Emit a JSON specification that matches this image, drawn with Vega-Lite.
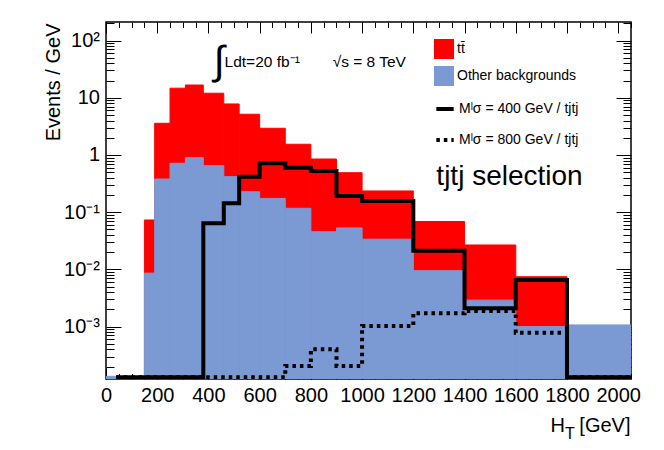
{
  "$schema": "https://vega.github.io/schema/vega-lite/v6.json",
  "width": 525,
  "height": 357,
  "autosize": "none",
  "padding": {"left": 106, "top": 22, "right": 33, "bottom": 71},
  "background": "white",
  "config": {
    "font": "Liberation Sans",
    "view": {"stroke": "black", "strokeWidth": 1.5},
    "axis": {
      "domain": false,
      "grid": false,
      "tickColor": "black",
      "tickWidth": 1,
      "labelColor": "black",
      "labelFont": "Liberation Sans",
      "labelFontSize": 20,
      "labelOverlap": false,
      "labelFlush": false,
      "titleFont": "Liberation Sans",
      "titleFontWeight": "normal",
      "titleColor": "black",
      "titleFontSize": 20
    },
    "legend": {
      "labelFont": "Liberation Sans",
      "labelFontSize": 14,
      "labelColor": "black",
      "padding": 0
    },
    "text": {"font": "Liberation Sans", "color": "black"}
  },
  "datasets": {
    "bins": [
      {"lo": 150, "hi": 190, "process": "tt\u0304", "events": 0.073},
      {"lo": 190, "hi": 250, "process": "tt\u0304", "events": 3.58},
      {"lo": 250, "hi": 310, "process": "tt\u0304", "events": 14.7},
      {"lo": 310, "hi": 380, "process": "tt\u0304", "events": 16.7},
      {"lo": 380, "hi": 460, "process": "tt\u0304", "events": 12.0},
      {"lo": 460, "hi": 520, "process": "tt\u0304", "events": 7.8},
      {"lo": 520, "hi": 600, "process": "tt\u0304", "events": 5.15},
      {"lo": 600, "hi": 700, "process": "tt\u0304", "events": 2.93},
      {"lo": 700, "hi": 800, "process": "tt\u0304", "events": 1.54},
      {"lo": 800, "hi": 900, "process": "tt\u0304", "events": 0.85},
      {"lo": 900, "hi": 1000, "process": "tt\u0304", "events": 0.49},
      {"lo": 1000, "hi": 1200, "process": "tt\u0304", "events": 0.235},
      {"lo": 1200, "hi": 1400, "process": "tt\u0304", "events": 0.0688},
      {"lo": 1400, "hi": 1600, "process": "tt\u0304", "events": 0.0267},
      {"lo": 1600, "hi": 1800, "process": "tt\u0304", "events": 0.00745},
      {"lo": 0, "hi": 40, "process": "Other backgrounds", "events": 0.000135},
      {"lo": 150, "hi": 190, "process": "Other backgrounds", "events": 0.0086},
      {"lo": 190, "hi": 250, "process": "Other backgrounds", "events": 0.38},
      {"lo": 250, "hi": 310, "process": "Other backgrounds", "events": 0.716},
      {"lo": 310, "hi": 380, "process": "Other backgrounds", "events": 0.897},
      {"lo": 380, "hi": 460, "process": "Other backgrounds", "events": 0.65},
      {"lo": 460, "hi": 520, "process": "Other backgrounds", "events": 0.418},
      {"lo": 520, "hi": 600, "process": "Other backgrounds", "events": 0.228},
      {"lo": 600, "hi": 700, "process": "Other backgrounds", "events": 0.174},
      {"lo": 700, "hi": 800, "process": "Other backgrounds", "events": 0.117},
      {"lo": 800, "hi": 900, "process": "Other backgrounds", "events": 0.0456},
      {"lo": 900, "hi": 1000, "process": "Other backgrounds", "events": 0.053},
      {"lo": 1000, "hi": 1200, "process": "Other backgrounds", "events": 0.0337},
      {"lo": 1200, "hi": 1400, "process": "Other backgrounds", "events": 0.0095},
      {"lo": 1400, "hi": 1600, "process": "Other backgrounds", "events": 0.0029},
      {"lo": 1600, "hi": 1800, "process": "Other backgrounds", "events": 0.001},
      {"lo": 1800, "hi": 2050, "process": "Other backgrounds", "events": 0.00107}
    ],
    "signals": [
      {"ht": 40, "events": 0.00013, "signal": "M\u02E1\u03C3 = 400 GeV / tjtj"},
      {"ht": 380, "events": 0.064, "signal": "M\u02E1\u03C3 = 400 GeV / tjtj"},
      {"ht": 460, "events": 0.143, "signal": "M\u02E1\u03C3 = 400 GeV / tjtj"},
      {"ht": 520, "events": 0.418, "signal": "M\u02E1\u03C3 = 400 GeV / tjtj"},
      {"ht": 600, "events": 0.716, "signal": "M\u02E1\u03C3 = 400 GeV / tjtj"},
      {"ht": 700, "events": 0.6, "signal": "M\u02E1\u03C3 = 400 GeV / tjtj"},
      {"ht": 800, "events": 0.525, "signal": "M\u02E1\u03C3 = 400 GeV / tjtj"},
      {"ht": 900, "events": 0.192, "signal": "M\u02E1\u03C3 = 400 GeV / tjtj"},
      {"ht": 1000, "events": 0.157, "signal": "M\u02E1\u03C3 = 400 GeV / tjtj"},
      {"ht": 1200, "events": 0.0212, "signal": "M\u02E1\u03C3 = 400 GeV / tjtj"},
      {"ht": 1400, "events": 0.00209, "signal": "M\u02E1\u03C3 = 400 GeV / tjtj"},
      {"ht": 1600, "events": 0.00653, "signal": "M\u02E1\u03C3 = 400 GeV / tjtj"},
      {"ht": 1800, "events": 0.00013, "signal": "M\u02E1\u03C3 = 400 GeV / tjtj"},
      {"ht": 2050, "events": 0.00013, "signal": "M\u02E1\u03C3 = 400 GeV / tjtj"},
      {"ht": 40, "events": 0.00013, "signal": "M\u02E1\u03C3 = 800 GeV / tjtj"},
      {"ht": 700, "events": 0.000205, "signal": "M\u02E1\u03C3 = 800 GeV / tjtj"},
      {"ht": 800, "events": 0.0004, "signal": "M\u02E1\u03C3 = 800 GeV / tjtj"},
      {"ht": 900, "events": 0.000205, "signal": "M\u02E1\u03C3 = 800 GeV / tjtj"},
      {"ht": 1000, "events": 0.00102, "signal": "M\u02E1\u03C3 = 800 GeV / tjtj"},
      {"ht": 1200, "events": 0.00171, "signal": "M\u02E1\u03C3 = 800 GeV / tjtj"},
      {"ht": 1400, "events": 0.00187, "signal": "M\u02E1\u03C3 = 800 GeV / tjtj"},
      {"ht": 1600, "events": 0.00078, "signal": "M\u02E1\u03C3 = 800 GeV / tjtj"},
      {"ht": 1800, "events": 0.00013, "signal": "M\u02E1\u03C3 = 800 GeV / tjtj"},
      {"ht": 2050, "events": 0.00013, "signal": "M\u02E1\u03C3 = 800 GeV / tjtj"}
    ],
    "note": [{}]
  },
  "layer": [
    {
      "data": {"name": "bins"},
      "mark": {"type": "bar", "clip": true, "strokeWidth": 1},
      "encoding": {
        "x": {
          "field": "lo", "type": "quantitative",
          "scale": {"domain": [0, 2050], "nice": false, "zero": false},
          "axis": {
            "orient": "bottom",
            "values": [0, 200, 400, 600, 800, 1000, 1200, 1400, 1600, 1800, 2000],
            "format": "d",
            "tickSize": -11,
            "labelPadding": 17,
            "title": "H",
            "titleAlign": "left",
            "titleBaseline": "alphabetic",
            "titleX": 444,
            "titleY": 52
          }
        },
        "x2": {"field": "hi"},
        "y": {
          "field": "events", "type": "quantitative", "stack": null,
          "scale": {"type": "log", "domain": [0.0001213, 211], "nice": false},
          "axis": {
            "orient": "left",
            "values": [0.001, 0.01, 0.1, 1, 10, 100],
            "tickSize": -15,
            "labelPadding": 21.5,
            "labelExpr": "datum.value > 50 ? '10\u00B2' : datum.value > 5 ? '10' : datum.value > 0.5 ? '1' : datum.value > 0.05 ? '10\u207B\u00B9' : datum.value > 0.005 ? '10\u207B\u00B2' : '10\u207B\u00B3'",
            "title": "Events / GeV",
            "titleAngle": -90,
            "titleAlign": "right",
            "titleBaseline": "middle",
            "titleX": -53,
            "titleY": 1
          }
        },
        "y2": {"datum": 0.0001213},
        "color": {
          "field": "process", "type": "nominal",
          "scale": {"domain": ["tt\u0304", "Other backgrounds"], "range": ["#ff0000", "#7b99d3"]},
          "legend": {
            "orient": "none", "legendX": 328, "legendY": 17,
            "title": null, "symbolType": "square", "symbolSize": 400,
            "symbolStrokeWidth": 0, "symbolOpacity": 1,
            "labelOffset": 3, "rowPadding": 7
          }
        },
        "stroke": {
          "field": "process", "type": "nominal",
          "scale": {"domain": ["tt\u0304", "Other backgrounds"], "range": ["#ff0000", "#7b99d3"]},
          "legend": null
        }
      }
    },
    {
      "data": {"name": "signals"},
      "mark": {"type": "line", "interpolate": "step-after", "color": "black", "strokeWidth": 4, "strokeCap": "butt", "clip": true},
      "encoding": {
        "x": {
          "field": "ht", "type": "quantitative",
          "scale": {"domain": [0, 2050], "nice": false, "zero": false},
          "axis": {
            "orient": "bottom",
            "values": [0, 50, 100, 150, 200, 250, 300, 350, 400, 450, 500, 550, 600, 650, 700, 750, 800, 850, 900, 950, 1000, 1050, 1100, 1150, 1200, 1250, 1300, 1350, 1400, 1450, 1500, 1550, 1600, 1650, 1700, 1750, 1800, 1850, 1900, 1950, 2000, 2050],
            "tickSize": -5.5,
            "labels": false,
            "title": "T",
            "titleFontSize": 16,
            "titleAlign": "left",
            "titleBaseline": "alphabetic",
            "titleX": 458.5,
            "titleY": 59
          }
        },
        "y": {
          "field": "events", "type": "quantitative",
          "scale": {"type": "log", "domain": [0.0001213, 211], "nice": false},
          "axis": {
            "orient": "left",
            "values": [0.0002, 0.0003, 0.0004, 0.0005, 0.0006, 0.0007, 0.0008, 0.0009, 0.002, 0.003, 0.004, 0.005, 0.006, 0.007, 0.008, 0.009, 0.02, 0.03, 0.04, 0.05, 0.06, 0.07, 0.08, 0.09, 0.2, 0.3, 0.4, 0.5, 0.6, 0.7, 0.8, 0.9, 2, 3, 4, 5, 6, 7, 8, 9, 20, 30, 40, 50, 60, 70, 80, 90, 200],
            "tickSize": -8,
            "labels": false,
            "title": null
          }
        },
        "strokeDash": {
          "field": "signal", "type": "nominal",
          "scale": {"domain": ["M\u02E1\u03C3 = 400 GeV / tjtj", "M\u02E1\u03C3 = 800 GeV / tjtj"], "range": [[1, 0], [3.5, 4]]},
          "legend": {
            "orient": "none", "legendX": 328, "legendY": 76,
            "title": null, "symbolType": "stroke", "symbolSize": 300,
            "symbolStrokeColor": "black", "symbolStrokeWidth": 4,
            "labelOffset": 3, "rowPadding": 12
          }
        }
      }
    },
    {
      "data": {"name": "note"},
      "mark": {"type": "text", "fontSize": 40, "align": "right", "baseline": "middle"},
      "encoding": {
        "x": {
          "datum": 463, "type": "quantitative",
          "scale": {"domain": [0, 2050], "nice": false, "zero": false},
          "axis": {
            "orient": "top",
            "values": [0, 200, 400, 600, 800, 1000, 1200, 1400, 1600, 1800, 2000],
            "tickSize": -11,
            "labels": false,
            "title": "[GeV]",
            "titleAlign": "right",
            "titleBaseline": "alphabetic",
            "titleX": 524,
            "titleY": 409
          }
        },
        "y": {
          "datum": 41.4, "type": "quantitative",
          "scale": {"type": "log", "domain": [0.0001213, 211], "nice": false},
          "axis": {
            "orient": "right",
            "values": [0.001, 0.01, 0.1, 1, 10, 100],
            "tickSize": -15,
            "labels": false,
            "title": null
          }
        },
        "text": {"value": "\u222B"}
      }
    },
    {
      "data": {"name": "note"},
      "mark": {"type": "text", "fontSize": 15.5, "align": "left", "baseline": "alphabetic"},
      "encoding": {
        "x": {
          "datum": 463, "type": "quantitative",
          "scale": {"domain": [0, 2050], "nice": false, "zero": false},
          "axis": {
            "orient": "top",
            "values": [0, 50, 100, 150, 200, 250, 300, 350, 400, 450, 500, 550, 600, 650, 700, 750, 800, 850, 900, 950, 1000, 1050, 1100, 1150, 1200, 1250, 1300, 1350, 1400, 1450, 1500, 1550, 1600, 1650, 1700, 1750, 1800, 1850, 1900, 1950, 2000, 2050],
            "tickSize": -5.5,
            "labels": false,
            "title": null
          }
        },
        "y": {
          "datum": 34.5, "type": "quantitative",
          "scale": {"type": "log", "domain": [0.0001213, 211], "nice": false},
          "axis": {
            "orient": "right",
            "values": [0.0002, 0.0003, 0.0004, 0.0005, 0.0006, 0.0007, 0.0008, 0.0009, 0.002, 0.003, 0.004, 0.005, 0.006, 0.007, 0.008, 0.009, 0.02, 0.03, 0.04, 0.05, 0.06, 0.07, 0.08, 0.09, 0.2, 0.3, 0.4, 0.5, 0.6, 0.7, 0.8, 0.9, 2, 3, 4, 5, 6, 7, 8, 9, 20, 30, 40, 50, 60, 70, 80, 90, 200],
            "tickSize": -8,
            "labels": false,
            "title": null
          }
        },
        "text": {"value": "Ldt=20 fb\u207B\u00B9"}
      }
    },
    {
      "data": {"name": "note"},
      "mark": {"type": "text", "fontSize": 15.5, "align": "left", "baseline": "alphabetic"},
      "encoding": {
        "x": {"datum": 885, "type": "quantitative", "axis": null},
        "y": {"datum": 34.5, "type": "quantitative", "axis": null},
        "text": {"value": "\u221As = 8 TeV"}
      }
    },
    {
      "data": {"name": "note"},
      "mark": {"type": "text", "fontSize": 28, "align": "left", "baseline": "alphabetic"},
      "encoding": {
        "x": {"datum": 1290, "type": "quantitative", "axis": null},
        "y": {"datum": 0.3, "type": "quantitative", "axis": null},
        "text": {"value": "tjtj selection"}
      }
    }
  ],
  "resolve": {"axis": {"x": "independent", "y": "independent"}}
}
